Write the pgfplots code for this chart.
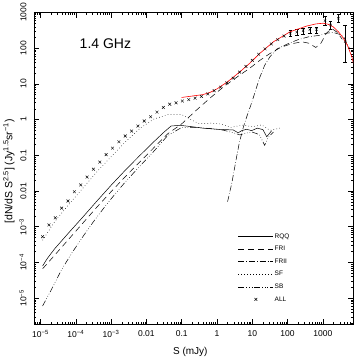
\documentclass[border=0pt]{standalone}
\usepackage{fontspec}
\setmainfont{Liberation Sans}
\usepackage{pgfplots}
\pgfplotsset{compat=1.18}
\pgfplotsset{
  mylineleg/.style={legend image code/.code={\draw[##1] (0pt,0pt) -- (35pt,0pt);}},
  mymarkleg/.style={legend image code/.code={\draw[mark repeat=2,mark phase=2,##1] plot coordinates {(0pt,0pt)(17.5pt,0pt)(35pt,0pt)};}},
}

\begin{document}
\begin{tikzpicture}
\begin{axis}[
  scale only axis, width=319pt, height=311.5pt,
  xmode=log, ymode=log,
  xmin=6.55e-6, xmax=7130, ymin=1.88e-6, ymax=1000,
  axis line style={line width=0.5pt},
  tick align=inside, tick style={black, line width=0.4pt},
  major tick length=5pt, minor tick length=2.5pt,
  xtick={1e-5,1e-4,1e-3,0.01,0.1,1,10,100,1000},
  xticklabels={10\textsuperscript{−5},10\textsuperscript{−4},10\textsuperscript{−3},0.01,0.1,1,10,100,1000},
  minor xtick={7e-6,8e-6,9e-6,
    2e-5,3e-5,4e-5,5e-5,6e-5,7e-5,8e-5,9e-5,
    2e-4,3e-4,4e-4,5e-4,6e-4,7e-4,8e-4,9e-4,
    2e-3,3e-3,4e-3,5e-3,6e-3,7e-3,8e-3,9e-3,
    0.02,0.03,0.04,0.05,0.06,0.07,0.08,0.09,
    0.2,0.3,0.4,0.5,0.6,0.7,0.8,0.9,
    2,3,4,5,6,7,8,9,
    20,30,40,50,60,70,80,90,
    200,300,400,500,600,700,800,900,
    2000,3000,4000,5000,6000,7000},
  ytick={1e-5,1e-4,1e-3,0.01,0.1,1,10,100,1000},
  yticklabels={10\textsuperscript{−5},10\textsuperscript{−4},10\textsuperscript{−3},0.01,0.1,1,10,100,1000},
  minor ytick={2e-6,3e-6,4e-6,5e-6,6e-6,7e-6,8e-6,9e-6,
    2e-5,3e-5,4e-5,5e-5,6e-5,7e-5,8e-5,9e-5,
    2e-4,3e-4,4e-4,5e-4,6e-4,7e-4,8e-4,9e-4,
    2e-3,3e-3,4e-3,5e-3,6e-3,7e-3,8e-3,9e-3,
    0.02,0.03,0.04,0.05,0.06,0.07,0.08,0.09,
    0.2,0.3,0.4,0.5,0.6,0.7,0.8,0.9,
    2,3,4,5,6,7,8,9,
    20,30,40,50,60,70,80,90,
    200,300,400,500,600,700,800,900},
  /pgf/number format/assume math mode=true,
  ticklabel style={font=\fontsize{8.5}{9}\selectfont},
  yticklabel style={rotate=90, anchor=south},
  yticklabel shift=4pt,
  xticklabel shift=3pt,
  xlabel={S (mJy)},
  ylabel={[dN/dS S\textsuperscript{2.5}] (Jy\textsuperscript{1.5}sr\textsuperscript{−1})},
  every axis x label/.style={at={(rel axis cs:0.49,0)}, yshift=-28pt, anchor=center, font=\fontsize{10}{11}\selectfont},
  every axis y label/.style={at={(rel axis cs:0,0.49)}, xshift=-25pt, rotate=90, anchor=center, font=\fontsize{10.5}{11}\selectfont},
  legend style={at={(rel axis cs:0.63,0.302)}, anchor=north west, draw=none, fill=none,
    font=\fontsize{6.5}{7}\selectfont, row sep=4.1pt,
    nodes={inner sep=1pt, text height=5pt, text depth=1.5pt}},
  legend cell align=left,
  mylineleg,
  every axis plot/.append style={line width=0.5pt},
]
% RQQ
\addplot[black] coordinates {
(1.148e-5,7.943e-5) (1.585e-5,1.318e-4) (2.512e-5,2.399e-4) (6.310e-5,6.761e-4)
(1.585e-4,1.862e-3) (3.981e-4,5.248e-3) (1e-3,1.445e-2) (2.512e-3,3.802e-2)
(6.310e-3,9.550e-2) (1.585e-2,0.2344) (3.162e-2,0.4467) (5.012e-2,0.6607)
(8.913e-2,0.6918) (0.1995,0.6310) (0.4074,0.5754) (1,0.5370) (2.884,0.5129)
(3.981,0.4266) (5.012,0.4898) (6.918,0.5370) (9.550,0.4898) (13.80,0.5754)
(19.95,0.5248) (25.70,0.3311) (35.48,0.4898)};
\addlegendentry{RQQ}
% FRI
\addplot[black, dash pattern=on 6pt off 4pt] coordinates {
(1.148e-5,6.607e-5) (2.512e-5,1.585e-4) (6.310e-5,4.467e-4) (1.585e-4,1.259e-3)
(3.981e-4,3.548e-3) (1e-3,9.550e-3) (2.512e-3,2.512e-2) (6.310e-3,6.310e-2)
(1.585e-2,0.1585) (3.981e-2,0.3981) (0.1,0.7586) (0.2512,1.778) (0.6310,3.981)
(1.585,8.511) (4.467,17.78) (8.511,27.54) (15.85,44.67) (31.62,70.79)
(63.10,104.7) (125.9,131.8) (251.2,151.4) (398.1,138.0) (631.0,104.7)
(891.3,141.3) (1259,263.0) (1778,354.8) (2512,281.8) (3548,177.8)};
\addlegendentry{FRI}
% FRII
\addplot[black, dash pattern=on 6pt off 2pt on 0.6pt off 2pt] coordinates {
(1.995,5.012e-3) (2.630,1.660e-2) (3.467,7.413e-2) (4.266,0.2188) (5.623,0.6310)
(7.079,1.259) (8.913,2.399) (11.22,4.786) (15.85,14.13) (22.39,33.11)
(31.62,57.54) (50.12,95.50) (100,131.8) (199.5,173.8) (398.1,208.9)
(794.3,229.1) (1259,263.0) (1995,275.4) (3162,239.9) (3981,199.5) (5623,100)};
\addlegendentry{FRII}
% SF
\addplot[black, dash pattern=on 0.6pt off 2.4pt] coordinates {
(1.148e-5,4.169e-4) (2.512e-5,1.380e-3) (6.310e-5,4.169e-3) (1.585e-4,1.202e-2)
(3.981e-4,3.467e-2) (1e-3,9.120e-2) (2.512e-3,0.2344) (6.310e-3,0.5495)
(1.585e-2,1.023) (3.981e-2,1.380) (0.1,1.380) (0.1905,0.9772) (0.3162,0.7586)
(0.6310,0.7943) (1.259,0.7586) (2.512,0.6026) (5.012,0.7079) (10,0.6310)
(18.62,0.7079) (31.62,0.5012) (60.26,0.5754)};
\addlegendentry{SF}
% SB
\addplot[black, dash pattern=on 6pt off 2pt on 0.6pt off 2pt on 0.6pt off 2pt on 0.6pt off 2pt] coordinates {
(1.148e-5,6.026e-6) (1.995e-5,1.660e-5) (3.981e-5,6.310e-5) (7.943e-5,1.905e-4)
(1.585e-4,5.248e-4) (3.162e-4,1.380e-3) (6.310e-4,3.388e-3) (1.259e-3,7.943e-3)
(2.512e-3,1.778e-2) (6.310e-3,4.786e-2) (1.585e-2,0.1259) (3.981e-2,0.3548)
(0.1,0.6026) (0.2512,0.6026) (0.6310,0.5623) (1.585,0.5012) (3.162,0.4169)
(4.467,0.3715) (6.310,0.4169) (10,0.4467) (15.85,0.3802) (22.39,0.1905)
(28.18,0.3162) (39.81,0.4467)};
\addlegendentry{SB}
% ALL
\addplot[black, only marks, mark=x, mark size=2pt, line width=0.45pt, mymarkleg] coordinates {
(1.148e-5,5.25e-4) (1.738e-5,1.122e-3) (2.630e-5,1.778e-3) (3.981e-5,3.311e-3)
(6.026e-5,5.248e-3) (9.120e-5,9.550e-3) (1.380e-4,1.479e-2) (2.089e-4,2.455e-2)
(3.162e-4,4.074e-2) (4.786e-4,6.457e-2) (7.244e-4,0.1047) (1.096e-3,0.1585)
(1.660e-3,0.2399) (2.512e-3,0.3467) (3.802e-3,0.4786) (5.754e-3,0.6607)
(8.710e-3,0.9120) (1.318e-2,1.202) (1.995e-2,1.622) (3.020e-2,2.188)
(4.571e-2,2.692) (6.918e-2,2.951) (0.1047,3.311) (0.1585,3.631) (0.2399,3.981)
(0.3631,4.467) (0.5495,5.248) (0.8318,6.457) (1.259,8.128) (1.905,10.72)
(2.884,14.45) (4.365,21.38) (6.607,30.90) (10,45.71) (15.14,67.61) (22.91,95.50)
(34.67,131.8) (52.48,173.8) (79.43,218.8)};
\addlegendentry{ALL}
\addplot[black, only marks, mark=x, mark size=1.6pt, line width=0.4pt, forget plot,
  error bars/.cd, y dir=both, y explicit, error mark options={rotate=90, mark size=1.8pt, line width=0.4pt}] coordinates {
(120.2,263.0) +- (0,50)
(182.0,281.8) +- (0,55)
(275.4,309.0) +- (0,60)
(426.6,331.1) +- (0,65)
(660.7,331.1) +- (0,65)
(1148,588.8) += (0,190) -= (0,140)
(1660,446.7) += (0,140) -= (0,105)
(2754,691.8) += (0,220) -= (0,165)
(4266,151.4) += (0,285) -= (0,110)};
% fit
\addplot[red, line width=0.6pt, forget plot] coordinates {
(0.1,4.169) (0.1995,4.571) (0.3981,5.012) (0.6310,5.754) (1,7.244) (1.995,11.48)
(4.467,21.88) (8.511,38.02) (16.60,72.44) (39.81,151.4) (117.5,288.4)
(346.7,416.9) (631.0,478.6) (1023,501.2) (1413,467.7) (1950,398.1)
(2818,281.8) (3802,190.5) (5012,117.5) (6607,57.54) (8128,24.55)};
\node[font=\fontsize{14}{16}\selectfont] at (axis cs:6.9e-4,131) {1.4 GHz};
\end{axis}
\pgfresetboundingbox
\path[use as bounding box] ([shift={(-34pt,-37pt)}]current axis.south west) rectangle ([shift={(1pt,12.5pt)}]current axis.north east);
\end{tikzpicture}
\end{document}
